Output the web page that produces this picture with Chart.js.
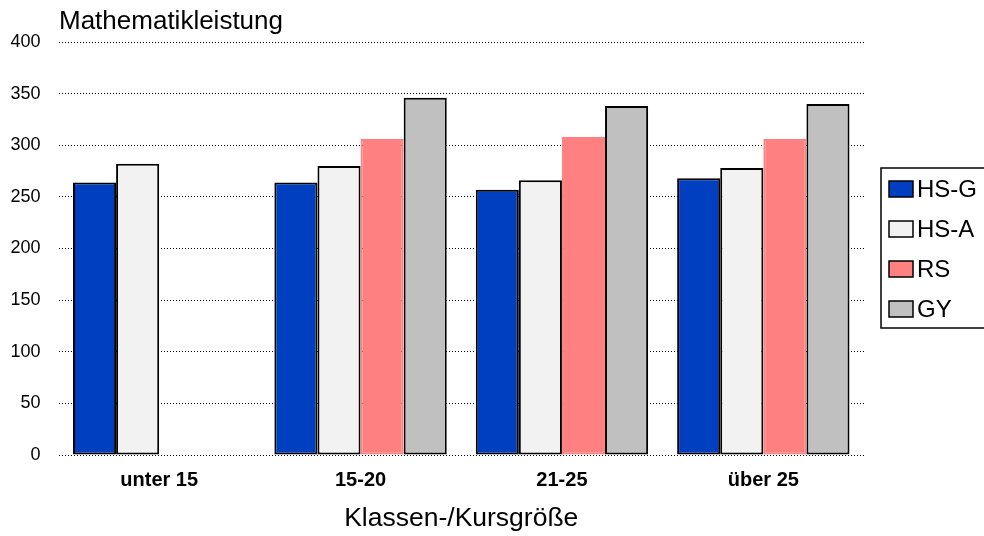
<!DOCTYPE html>
<html>
<head>
<meta charset="utf-8">
<script src="https://cdn.jsdelivr.net/npm/chart.js@4/dist/chart.umd.min.js"></script>
<style>
  html, body { margin: 0; padding: 0; background: #ffffff; }
  canvas { display: block; }
</style>
</head>
<body>
<canvas id="chart" width="984" height="536"></canvas>
<script>
// Klassen-/Kursgröße categories and mean scores per school type
const categories = ['unter 15', '15-20', '21-25', 'über 25'];
const hsG = [264, 264, 257, 268];
const hsA = [282, 280, 266, 278];
const rs  = [null, 306, 308, 306];
const gy  = [null, 346, 338, 340];
const yMin = 0, yMax = 400, yStep = 50;

const FONT = '"Liberation Sans", Arial, Helvetica, sans-serif';

// Chart title drawn at the upper left of the plot
const titlePlugin = {
  id: 'topTitle',
  afterDraw(chart) {
    const ctx = chart.ctx;
    ctx.save();
    ctx.fillStyle = '#000';
    ctx.font = '26px ' + FONT;
    ctx.textAlign = 'left';
    ctx.textBaseline = 'alphabetic';
    ctx.fillText('Mathematikleistung', chart.chartArea.left + 0.5, 29);
    ctx.restore();
  }
};

// Framed legend on the right side, built from the datasets
const legendPlugin = {
  id: 'framedLegend',
  afterDraw(chart) {
    const ctx = chart.ctx;
    const sets = chart.data.datasets;
    const left = chart.chartArea.right + 17;
    const top = 168;
    const rowH = 40;
    ctx.save();
    ctx.lineWidth = 1.5;
    ctx.strokeStyle = '#000';
    ctx.strokeRect(left, top, chart.width + 20 - left, rowH * sets.length);
    ctx.font = '24px ' + FONT;
    ctx.textBaseline = 'middle';
    ctx.textAlign = 'left';
    sets.forEach((ds, i) => {
      const cy = top + 21 + i * rowH;
      ctx.fillStyle = ds.backgroundColor;
      ctx.fillRect(left + 8, cy - 8, 24, 16);
      ctx.lineWidth = 1.5;
      ctx.strokeStyle = '#000';
      ctx.strokeRect(left + 8, cy - 8, 24, 16);
      ctx.fillStyle = '#000';
      ctx.fillText(ds.label, left + 36, cy + 1);
    });
    ctx.restore();
  }
};

const barBase = { borderWidth: 2, borderSkipped: false };

new Chart(document.getElementById('chart'), {
  type: 'bar',
  data: {
    labels: categories,
    datasets: [
      Object.assign({ label: 'HS-G', data: hsG, backgroundColor: '#0040C0', borderColor: '#000000' }, barBase),
      Object.assign({ label: 'HS-A', data: hsA, backgroundColor: '#F2F2F2', borderColor: '#000000' }, barBase),
      Object.assign({ label: 'RS',   data: rs,  backgroundColor: '#FF8080', borderColor: '#FF8080' }, barBase),
      Object.assign({ label: 'GY',   data: gy,  backgroundColor: '#C0C0C0', borderColor: '#000000' }, barBase)
    ]
  },
  options: {
    responsive: false,
    devicePixelRatio: 1,
    animation: false,
    layout: { padding: { left: 0, right: 120, top: 42, bottom: 0 } },
    datasets: { bar: { categoryPercentage: 0.856, barPercentage: 1.0 } },
    plugins: {
      legend: { display: false },
      title: { display: false },
      tooltip: { enabled: false }
    },
    scales: {
      x: {
        grid: { display: false, drawTicks: false },
        border: { display: false },
        ticks: {
          color: '#000',
          padding: 13,
          font: { family: FONT, size: 20, weight: 'bold' }
        },
        title: {
          display: true,
          text: 'Klassen-/Kursgröße',
          color: '#000',
          font: { family: FONT, size: 26.5 },
          padding: { top: 4, bottom: 1 }
        },
        afterFit(scale) { scale.height = 81; }
      },
      y: {
        min: yMin,
        max: yMax,
        ticks: {
          stepSize: yStep,
          color: '#000',
          padding: 18,
          font: { family: FONT, size: 18 }
        },
        afterFit(scale) { scale.width = 58.5; },
        grid: {
          drawTicks: false,
          color: '#000',
          lineWidth: 1
        },
        border: { display: false, dash: [1, 2] }
      }
    }
  },
  plugins: [titlePlugin, legendPlugin]
});
</script>
</body>
</html>
